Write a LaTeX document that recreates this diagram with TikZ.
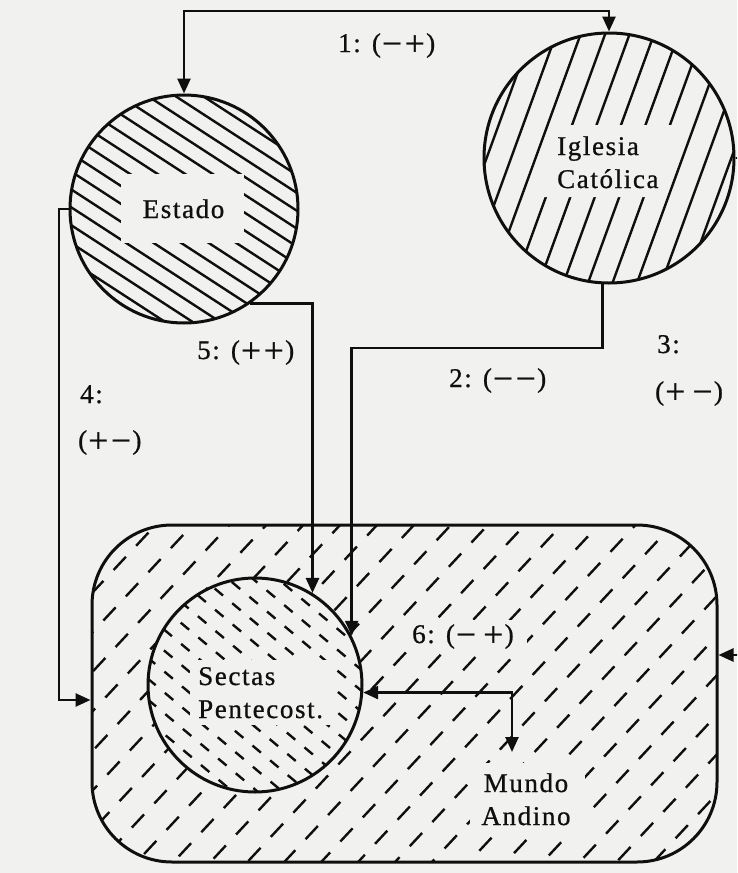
\documentclass[tikz,border=0pt]{standalone}
\usepackage{fontspec}
\setmainfont{Liberation Serif}[LetterSpace=6,FakeBold=0.8]
\newfontfamily\symf{DejaVu Serif}
\newcommand\symminus{{\symf −}}
\newcommand\symplus{{\symf +}}
\usetikzlibrary{arrows.meta,calc}
\definecolor{paper}{RGB}{241,241,240}
\definecolor{ink}{RGB}{15,15,15}
\begin{document}
\begin{tikzpicture}[x=1pt,y=-1pt,
  outline/.style={draw=ink,line width=3pt},
  conn/.style={draw=ink,line width=2.6pt},
  arr/.style={-{Triangle[length=15pt,width=13pt]}},
  darr/.style={{Triangle[length=15pt,width=13pt]}-{Triangle[length=15pt,width=13pt]}},
  hatch/.style={draw=ink,line width=2.4pt},
  lbl/.style={font=\fontsize{27}{33}\selectfont,text=ink,inner sep=0pt},
  clear/.style={fill=paper,draw=none}]
\useasboundingbox (0,0) rectangle (737,873);
\fill[paper] (0,0) rectangle (737,873);
\clip (0,0) rectangle (737,873);

% ---- Mundo Andino hatching (rising dashes)
\begin{scope}
  \clip[rounded corners=80pt] (92,525) rectangle (717,862);
  \begin{scope}[shift={(404.5,693.5)},rotate=47]
    \foreach \k in {-15,...,15}
      \draw[hatch,dash pattern=on 18pt off 15pt,dash phase=\k*11pt] (-460,\k*27) -- (460,\k*27);
  \end{scope}
\end{scope}
% ---- Sectas hatching (falling short dashes)
\fill[paper] (255,685) circle (107);
\begin{scope}
  \clip (255,685) circle (107);
  \begin{scope}[shift={(255,685)},rotate=-40]
    \foreach \k in {-8,...,8}
      \draw[hatch,dash pattern=on 11pt off 12pt,dash phase=\k*9pt] (-120,\k*16) -- (120,\k*16);
  \end{scope}
\end{scope}
% ---- Estado hatching
\begin{scope}
  \clip (184,209) circle (114);
  \begin{scope}[shift={(184,209)},rotate=-33]
    \foreach \k in {-8,...,8}
      \draw[hatch] (-130,\k*15) -- (130,\k*15);
  \end{scope}
\end{scope}
% ---- Iglesia hatching
\begin{scope}
  \clip (609,158) circle (125);
  \begin{scope}[shift={(609,158)},rotate=70]
    \foreach \k in {-6,...,6}
      \draw[hatch] (-140,\k*23) -- (140,\k*23);
  \end{scope}
\end{scope}

% ---- clear zones behind the texts
\fill[clear] (121,174) rectangle (244,243);
\fill[clear] (553,125) -- (686,125) -- (660,197) -- (527,197) -- cycle;
\fill[clear] (190,660) rectangle (334,725);
\fill[clear] (405,620) rectangle (527,651);
\fill[clear] (470,763) rectangle (585,833);

% ---- shapes
\node[circle,outline,minimum size=228pt,inner sep=0pt] (E) at (184,209) {};
\node[circle,outline,minimum size=250pt,inner sep=0pt] (I) at (609,158) {};
\node[circle,outline,minimum size=214pt,inner sep=0pt] (S) at (255,685) {};
\node[rectangle,outline,rounded corners=80pt,minimum width=625pt,minimum height=337pt] (R) at (404.5,693.5) {};

% ---- texts (base anchor of a two-line node = baseline of its last line)
\node[lbl,anchor=base] (tE) at (183.5,218) {Estado};
\node[lbl,anchor=base west,align=left] (tI) at (557,188) {Iglesia\\Católica};
\node[lbl,anchor=base west,align=left] (tS) at (198,718) {Sectas\\Pentecost.};
\node[lbl,anchor=base,align=center] (tM) at (526,825) {Mundo\\Andino};
\node[lbl,anchor=base west] (l1) at (338,52) {1: (\symminus\symplus)};
\node[lbl,anchor=base west] (l5) at (197,359) {5: (\symplus\symplus)};
\node[lbl,anchor=base west] (l2) at (449,387) {2: (\symminus\symminus)};
\node[lbl,anchor=base west] (l3a) at (657,353) {3:};
\node[lbl,anchor=base west] (l3b) at (655,400) {(\symplus\,\symminus)};
\node[lbl,anchor=base west] (l4a) at (80,403) {4:};
\node[lbl,anchor=base west] (l4b) at (78,449) {(\symplus\symminus)};
\node[lbl,anchor=base west] (l6) at (412,643) {6: (\symminus\,\symplus)};

% ---- connector helper points
\coordinate (top) at (0,11);
\coordinate (c4) at (59,700);
\coordinate (c2) at (0,348);
\coordinate (c3) at (752,655);
\coordinate (c6) at (512,752);

% ---- connectors
\draw[conn,darr] (E.north) -- (E.north |- top) -| (I.north);
\draw[conn,arr] (E.west) -| (c4) -- (c4 -| R.west);
\draw[conn,arr] (E.-55) -| (S.58);
\draw[conn,arr] (I.-93) |- (S.27 |- c2) -- (S.27);
\draw[conn,arr] (I.east) -| (c3) -- (c3 -| R.east);
\draw[conn,darr] (S.-4) -| (c6);
\end{tikzpicture}
\end{document}
